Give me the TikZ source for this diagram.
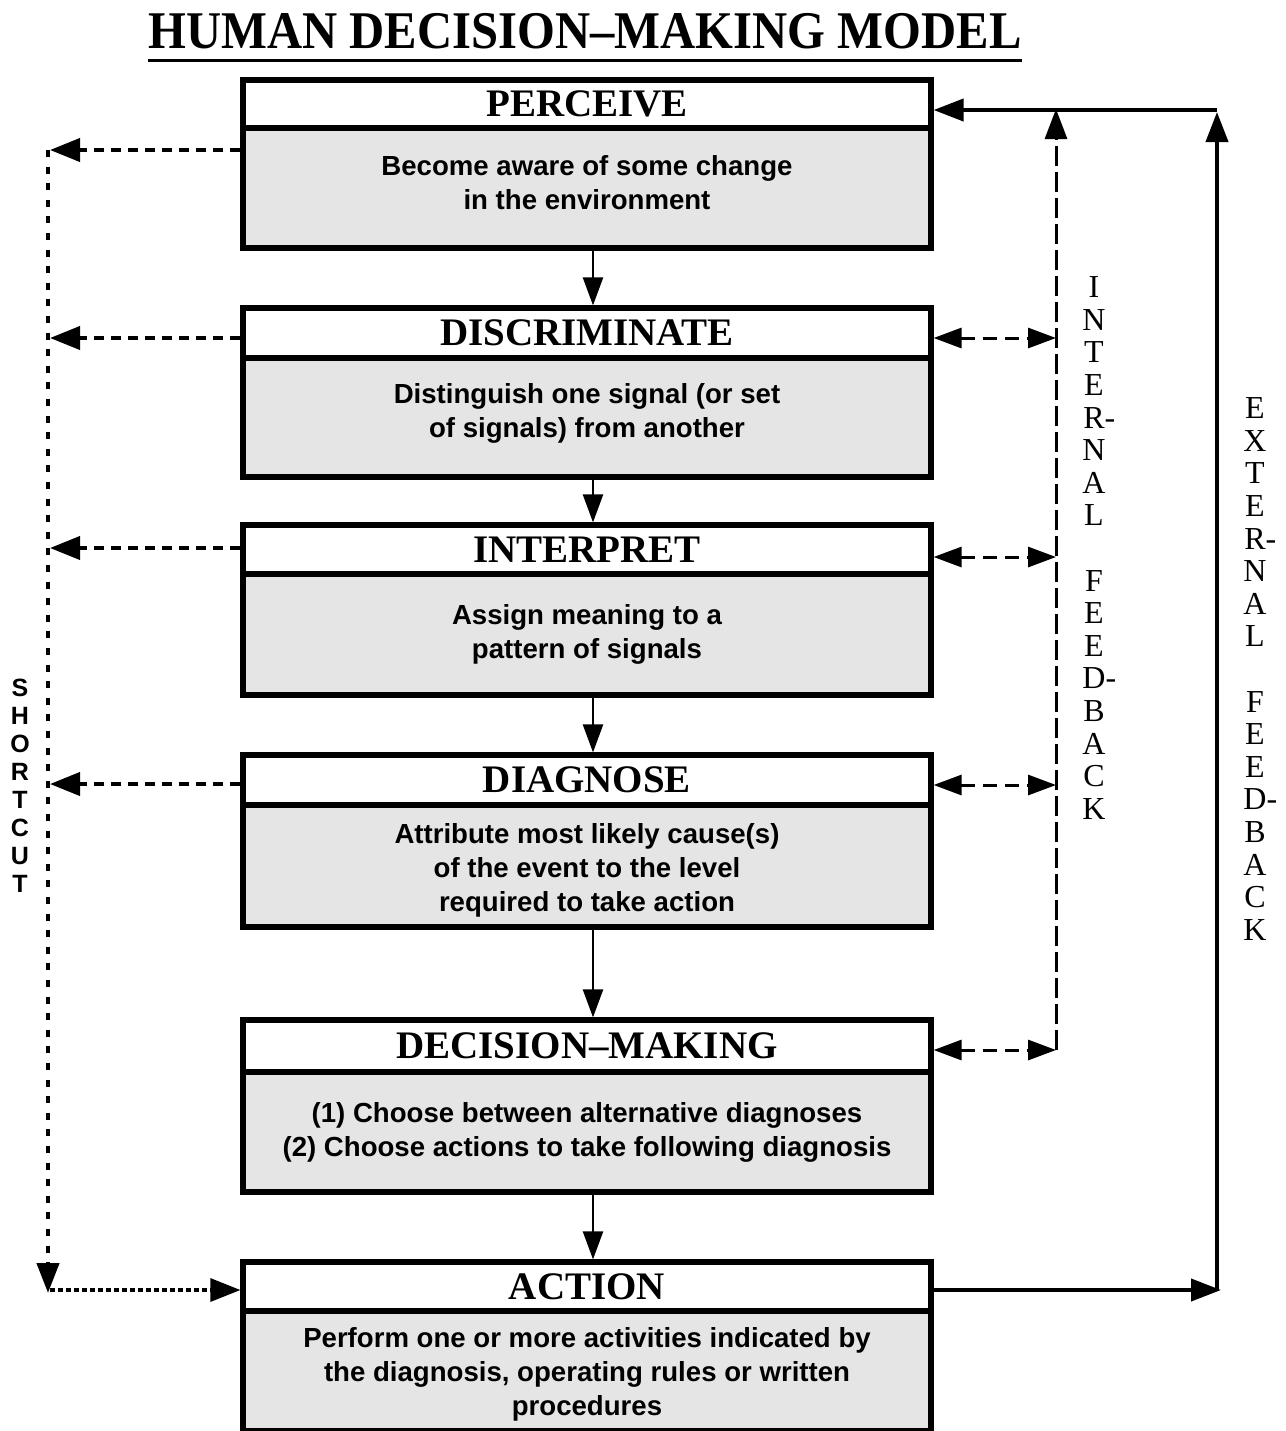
\documentclass[tikz,border=0pt]{standalone}
\usepackage{fontspec}
\setmainfont{Liberation Serif}
\newfontfamily\labelfont{Liberation Sans}
\usetikzlibrary{arrows.meta,calc}
\definecolor{boxgray}{HTML}{E5E5E5}

\begin{document}
\begin{tikzpicture}[x=0.5pt,y=-0.5pt,
  stagehead/.style={draw=black, line width=2.6pt, fill=white, minimum width=344pt,
    inner sep=0pt, font=\bfseries\fontsize{19.5}{20}\selectfont},
  stagebody/.style={draw=black, line width=2.6pt, fill=boxgray, minimum width=344pt,
    inner sep=0pt, align=center, font=\labelfont\bfseries\fontsize{13.8}{17}\selectfont},
  flowarrow/.style={line width=1.2pt, -{Triangle[length=14pt,width=10pt]}},
  shortarrow/.style={line width=2pt, dash pattern=on 5pt off 3.5pt,
    -{Triangle[length=15pt,width=11.5pt]}},
  shortline/.style={line width=2.2pt, dash pattern=on 3.5pt off 4.8pt},
  shortbottom/.style={line width=1.6pt, dash pattern=on 2.5pt off 1.5pt,
    -{Triangle[length=15pt,width=11.5pt]}},
  intline/.style={line width=1.5pt, dash pattern=on 10pt off 3pt,
    -{Triangle[length=15pt,width=11pt]}},
  intarrow/.style={line width=1.5pt, dash pattern=on 7pt off 4pt,
    {Triangle[length=14pt,width=10pt]}-{Triangle[length=14pt,width=10pt]}},
  extarrow/.style={line width=2pt, -{Triangle[length=15pt,width=11pt]}},
  stackserif/.style={align=center, inner sep=0pt, font=\fontsize{16}{16.3}\selectfont},
  stacksans/.style={align=center, inner sep=0pt, font=\labelfont\bfseries\fontsize{12.5}{14}\selectfont}
]
\useasboundingbox (0,0) rectangle (1286,1431);

% heading
\node (title) at (585,31) {\bfseries\fontsize{26.5}{28}\selectfont\scalebox{0.918}[1]{HUMAN DECISION--MAKING MODEL}};
\draw[line width=1.5pt] (148,60) -- (1022,60);

% stages: grey description box with a white title strip on top
\node[stagebody, minimum height=60pt] (b1) at (587,188)
  {Become aware of some change\\in the environment\\[-11pt]\mbox{}};
\node[stagehead, minimum height=24pt] (h1) at (587,104) {PERCEIVE};

\node[stagebody, minimum height=59.5pt] (b2) at (587,417.5)
  {Distinguish one signal (or set\\of signals) from another\\[-10pt]\mbox{}};
\node[stagehead, minimum height=25pt] (h2) at (587,333) {DISCRIMINATE};

\node[stagebody, minimum height=60.5pt] (b3) at (587,634.5)
  {Assign meaning to a\\pattern of signals};
\node[stagehead, minimum height=24.5pt] (h3) at (587,549.5) {INTERPRET};

\node[stagebody, minimum height=61pt] (b4) at (587,866)
  {\mbox{}\\[-3pt]Attribute most likely cause(s)\\of the event to the level\\required to take action};
\node[stagehead, minimum height=25pt] (h4) at (587,780) {DIAGNOSE};

\node[stagebody, minimum height=60pt] (b5) at (587,1132)
  {(1) Choose between alternative diagnoses\\(2) Choose actions to take following diagnosis};
\node[stagehead, minimum height=26pt] (h5) at (587,1046) {DECISION--MAKING};

\node[stagebody, minimum height=60pt] (b6) at (587,1371)
  {\mbox{}\\[-4pt]Perform one or more activities indicated by\\the diagnosis, operating rules or written\\procedures};
\node[stagehead, minimum height=24.5pt] (h6) at (587,1286.5) {ACTION};

% main sequence
\coordinate (mx) at (593,0);
\draw[flowarrow] (b1.south -| mx) -- (h2.north -| mx);
\draw[flowarrow] (b2.south -| mx) -- (h3.north -| mx);
\draw[flowarrow] (b3.south -| mx) -- (h4.north -| mx);
\draw[flowarrow] (b4.south -| mx) -- (h5.north -| mx);
\draw[flowarrow] (b5.south -| mx) -- (h6.north -| mx);

% shortcut path on the left
\coordinate (s1) at (50,150);
\coordinate (s2) at (50,338);
\coordinate (s3) at (50,548);
\coordinate (s4) at (50,784);
\coordinate (stop) at (48,150);
\coordinate (sbot) at (48,1293);
\coordinate (sturn) at (50,1290);
\draw[shortarrow] (b1.west |- s1) -- (s1);
\draw[shortarrow] (h2.west |- s2) -- (s2);
\draw[shortarrow] (h3.west |- s3) -- (s3);
\draw[shortarrow] (h4.west |- s4) -- (s4);
\draw[shortline, -{Triangle[length=15pt,width=11pt]}] (stop) -- (sbot);
\draw[shortbottom] (sturn) -- (h6.west |- sturn);
\node[stacksans] (shortcut) at (20,786) {S\\H\\O\\R\\T\\C\\U\\T};

% internal feedback
\coordinate (itop) at (1056,109);
\coordinate (ibot) at (1056,1050);
\coordinate (i2) at (1056,338);
\coordinate (i3) at (1056,557);
\coordinate (i4) at (1056,785);
\coordinate (i5) at (1056,1050);
\draw[intline] (ibot) -- (itop);
\draw[intarrow] (h2.east |- i2) -- (i2);
\draw[intarrow] (h3.east |- i3) -- (i3);
\draw[intarrow] (h4.east |- i4) -- (i4);
\draw[intarrow] (h5.east |- i5) -- (i5);
\node[stackserif] (intlabel) at (1094,548)
  {I\\N\\T\\E\\R\rlap{-}\\N\\A\\L\\~\\F\\E\\E\\D\rlap{-}\\B\\A\\C\\K};

% external feedback
\coordinate (etop) at (1217,110);
\coordinate (eup) at (1217,112);
\coordinate (ebot) at (1217,1290);
\coordinate (eend) at (1221,1290);
\draw[extarrow] (h6.east |- ebot) -- (eend);
\draw[extarrow] (ebot) -- (eup);
\draw[extarrow] (etop) -- (h1.east |- etop);
\node[stackserif] (extlabel) at (1255,669)
  {E\\X\\T\\E\\R\rlap{-}\\N\\A\\L\\~\\F\\E\\E\\D\rlap{-}\\B\\A\\C\\K};
\end{tikzpicture}
\end{document}
